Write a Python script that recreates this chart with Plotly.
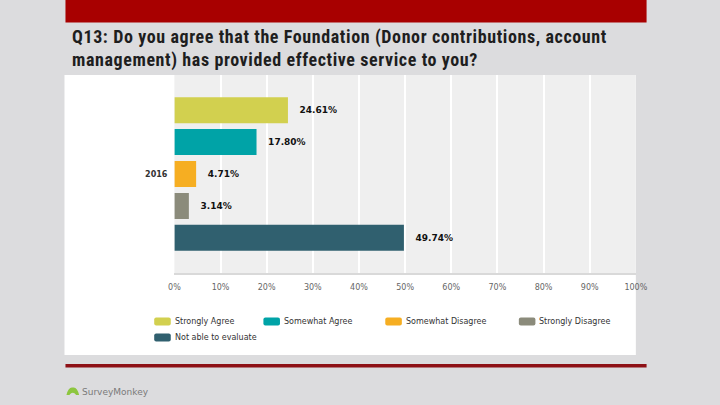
import plotly.graph_objects as go

# ---- data ----
categories = ["Strongly Agree", "Somewhat Agree", "Somewhat Disagree",
              "Strongly Disagree", "Not able to evaluate"]
values = [24.61, 17.80, 4.71, 3.14, 49.74]
year_label = ["2016"]
colors = ["#D2D04F", "#00A3A7", "#F6AE22", "#8B8B7B", "#30606F"]
x_ticks = list(range(0, 101, 10))
x_tick_labels = [f"{t}%" for t in x_ticks]
title_lines = ["Q13: Do you agree that the Foundation (Donor contributions, account",
               "management) has provided effective service to you?"]

W, H = 720, 405


def fx(px):
    return px / W


def fy(py):
    return 1 - py / H


fig = go.Figure()
for name, val, col in zip(categories, values, colors):
    fig.add_trace(go.Bar(
        y=year_label, x=[val], name=name, orientation="h",
        marker=dict(color=col, line=dict(width=0)),
        texttemplate="\u00a0\u00a0\u00a0<b>%{x:.2f}%</b>",
        textposition="outside", constraintext="none", cliponaxis=False,
        textfont=dict(family="DejaVu Sans", size=9, color="#111111"),
        showlegend=False,
    ))

shapes = [
    dict(type="rect", xref="paper", yref="paper", x0=fx(61), x1=fx(657),
         y0=fy(22.5), y1=fy(0), fillcolor="#A80000", line=dict(width=0), layer="below"),
    dict(type="rect", xref="paper", yref="paper", x0=fx(60), x1=fx(646),
         y0=fy(355), y1=fy(75), fillcolor="#FFFFFF", line=dict(width=0), layer="below"),
    dict(type="rect", xref="x domain", yref="y domain", x0=0, x1=1, y0=0, y1=1,
         fillcolor="#EFEFEF", line=dict(width=0), layer="below"),
    dict(type="rect", xref="paper", yref="paper", x0=fx(61), x1=fx(657),
         y0=fy(367.5), y1=fy(364), fillcolor="#8E1116", line=dict(width=0), layer="below"),
]

# logo icon (small arch)
ix0, ix1, iy0, iy1 = 62, 75, 395, 387.5
shapes.append(dict(
    type="path", xref="paper", yref="paper",
    path=(f"M{fx(ix0)},{fy(iy0)} Q{fx(ix0+2)},{fy(iy1-1)} {fx((ix0+ix1)/2)},{fy(iy1)} "
          f"Q{fx(ix1-2)},{fy(iy1-1)} {fx(ix1)},{fy(iy0)} L{fx(ix1-3)},{fy(iy0)} "
          f"Q{fx((ix0+ix1)/2)},{fy(iy1+3)} {fx(ix0+3)},{fy(iy0)} Z"),
    fillcolor="#8DC63F", line=dict(width=0), layer="below"))

title_style = "font-stretch:condensed;letter-spacing:0.6px"
annotations = []
for line, cy in zip(title_lines, [36.5, 59.5]):
    annotations.append(dict(
        text=f"<span style='{title_style}'>{line}</span>", xref="paper", yref="paper",
        x=fx(66), y=fy(cy), xanchor="left", yanchor="middle", align="left", showarrow=False,
        font=dict(family="Roboto", size=18, color="#1E1E1E", weight="bold")))
annotations.append(dict(text="SurveyMonkey", xref="paper", yref="paper", x=fx(76), y=fy(392),
                        xanchor="left", yanchor="middle", showarrow=False,
                        font=dict(family="DejaVu Sans", size=9, color="#7A7A7A")))

# custom legend
legend_pos = [(152, 321.5), (264, 321.5), (389, 321.5), (526, 321.5), (152, 337.5)]
sw_w, sw_h, r = 17, 8, 2
for (sx, sy), name, col in zip(legend_pos, categories, colors):
    x0, x1 = sx, sx + sw_w
    y0, y1 = sy - sw_h / 2, sy + sw_h / 2
    path = (f"M{fx(x0+r)},{fy(y0)} L{fx(x1-r)},{fy(y0)} Q{fx(x1)},{fy(y0)} {fx(x1)},{fy(y0+r)} "
            f"L{fx(x1)},{fy(y1-r)} Q{fx(x1)},{fy(y1)} {fx(x1-r)},{fy(y1)} "
            f"L{fx(x0+r)},{fy(y1)} Q{fx(x0)},{fy(y1)} {fx(x0)},{fy(y1-r)} "
            f"L{fx(x0)},{fy(y0+r)} Q{fx(x0)},{fy(y0)} {fx(x0+r)},{fy(y0)} Z")
    shapes.append(dict(type="path", xref="paper", yref="paper", path=path,
                       fillcolor=col, line=dict(width=0), layer="above"))
    annotations.append(dict(text=name, xref="paper", yref="paper", x=fx(x1 + 2), y=fy(sy),
                            xanchor="left", yanchor="middle", showarrow=False,
                            font=dict(family="DejaVu Sans", size=8, color="#333333")))

fig.update_layout(
    width=W, height=H, margin=dict(l=0, r=0, t=0, b=0),
    paper_bgcolor="#DCDCDE", plot_bgcolor="rgba(0,0,0,0)",
    barmode="group", bargap=0.194, bargroupgap=0.185,
    shapes=shapes, annotations=annotations, showlegend=False,
    xaxis=dict(domain=[fx(172.7), fx(646)], range=[0, 100], fixedrange=True,
               tickvals=x_ticks, ticktext=x_tick_labels,
               showgrid=True, gridcolor="#FFFFFF", gridwidth=1.5, zeroline=False,
               showline=True, linecolor="#D9D9D9", linewidth=1.5,
               ticks="", ticklabelstandoff=6,
               tickfont=dict(family="DejaVu Sans", size=8, color="#666666")),
    yaxis=dict(domain=[fy(273), fy(75)], autorange="reversed", fixedrange=True,
               showgrid=False, zeroline=False, showline=False, ticks="",
               ticklabelstandoff=6,
               tickfont=dict(family="DejaVu Sans", size=8, color="#333333", weight="bold")),
)

fig.write_html("out.html", config={"displayModeBar": False},
               post_script="document.body.style.margin='0';document.body.style.overflow='hidden';")
